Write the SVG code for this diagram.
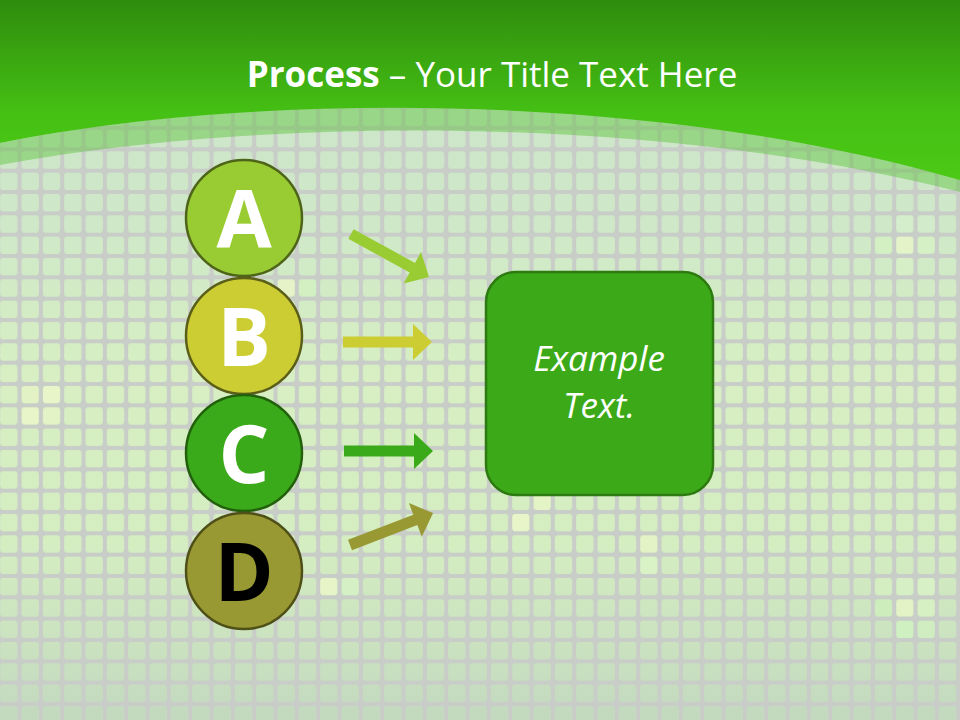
<svg xmlns="http://www.w3.org/2000/svg" width="960" height="720" viewBox="0 0 960 720">
<defs>
<style>
.title{font-family:"Open Sans","Liberation Sans",sans-serif;font-size:35px;fill:#ffffff}
.letter{font-family:"Open Sans","Liberation Sans",sans-serif;font-weight:bold;font-size:80px;text-anchor:middle}
.circ{stroke-width:2.5}
.box{fill:#3caa18;stroke:#2d7a10;stroke-width:2.5}
.boxtext{font-family:"Open Sans","Liberation Sans",sans-serif;font-style:italic;font-size:35px;fill:#ffffff;text-anchor:middle}
.hl{rx:3;ry:3}
</style>
<linearGradient id="hdr" x1="0" y1="0" x2="0" y2="190" gradientUnits="userSpaceOnUse">
<stop offset="0" stop-color="#2f8c0d"/>
<stop offset="0.6" stop-color="#45c014"/>
<stop offset="1" stop-color="#4ccb15"/>
</linearGradient>
<linearGradient id="cells" x1="0" y1="100" x2="0" y2="720" gradientUnits="userSpaceOnUse">
<stop offset="0" stop-color="#cde5c9"/>
<stop offset="0.2" stop-color="#cfe8c8"/>
<stop offset="0.45" stop-color="#d7efc2"/>
<stop offset="0.72" stop-color="#d4edc1"/>
<stop offset="1" stop-color="#c3d9bf"/>
</linearGradient>
<pattern id="grid" patternUnits="userSpaceOnUse" x="-1.8" y="0" width="21.333" height="21.333">
<path fill="#c8cdc8" fill-rule="evenodd" d="M0,0H21.333V21.333H0Z M5,2H16.3Q19.3,2 19.3,5V16.3Q19.3,19.3 16.3,19.3H5Q2,19.3 2,16.3V5Q2,2 5,2Z"/>
</pattern>
<path id="arrow" d="M0,-5.5H70V-18L89,0L70,18V5.5H0Z"/>
</defs>

<g id="background">
<rect x="0" y="0" width="960" height="720" fill="url(#cells)"/>
<g id="highlights">
<rect class="hl" x="21.5" y="386" width="17.3" height="17.3" fill="#e2f2c4"/>
<rect class="hl" x="42.9" y="386" width="17.3" height="17.3" fill="#e8f5c8"/>
<rect class="hl" x="21.5" y="407.3" width="17.3" height="17.3" fill="#e8f5c8"/>
<rect class="hl" x="42.9" y="407.3" width="17.3" height="17.3" fill="#e4f3c6"/>
<rect class="hl" x="277.5" y="279.3" width="17.3" height="17.3" fill="#e6f3c8"/>
<rect class="hl" x="298.9" y="279.3" width="17.3" height="17.3" fill="#d2f0c2"/>
<rect class="hl" x="875" y="236" width="17.3" height="17.3" fill="#d2f0c2"/>
<rect class="hl" x="896.2" y="236" width="17.3" height="17.3" fill="#e4f3c8"/>
<rect class="hl" x="917.5" y="236" width="17.3" height="17.3" fill="#d6f0c6"/>
<rect class="hl" x="896.2" y="214.7" width="17.3" height="17.3" fill="#d4edcb"/>
<rect class="hl" x="917.5" y="214.7" width="17.3" height="17.3" fill="#d2ebcb"/>
<rect class="hl" x="896.2" y="257.3" width="17.3" height="17.3" fill="#d6efc6"/>
<rect class="hl" x="875" y="599.3" width="17.3" height="17.3" fill="#cdeebc"/>
<rect class="hl" x="896.2" y="599.3" width="17.3" height="17.3" fill="#e4f3c6"/>
<rect class="hl" x="917.5" y="599.3" width="17.3" height="17.3" fill="#d6f0c4"/>
<rect class="hl" x="875" y="578" width="17.3" height="17.3" fill="#d4eec2"/>
<rect class="hl" x="896.2" y="578" width="17.3" height="17.3" fill="#d6efc4"/>
<rect class="hl" x="917.5" y="578" width="17.3" height="17.3" fill="#d8f0c6"/>
<rect class="hl" x="896.2" y="620.7" width="17.3" height="17.3" fill="#cff0c0"/>
<rect class="hl" x="917.5" y="620.7" width="17.3" height="17.3" fill="#d0edc2"/>
<rect class="hl" x="533.5" y="492.7" width="17.3" height="17.3" fill="#e4f4c6"/>
<rect class="hl" x="512.2" y="514" width="17.3" height="17.3" fill="#e8f5c8"/>
<rect class="hl" x="640.2" y="535.3" width="17.3" height="17.3" fill="#e4f3c6"/>
<rect class="hl" x="640.2" y="556.7" width="17.3" height="17.3" fill="#daf3c6"/>
<rect class="hl" x="320.2" y="578" width="17.3" height="17.3" fill="#e6f4c8"/>
<rect class="hl" x="341.5" y="578" width="17.3" height="17.3" fill="#d4f0c4"/>
</g>
<rect x="0" y="0" width="960" height="720" fill="url(#grid)"/>
</g>

<g id="header">
<path d="M0,165 C250,118 650,112 960,192 L960,178 C650,88 250,92 0,143 Z" fill="#5cc43a" fill-opacity="0.45"/>
<path d="M0,0 H960 V180 C650,90 250,92 0,143 Z" fill="url(#hdr)"/>
<text class="title" x="492" y="87" text-anchor="middle"><tspan font-weight="bold">Process</tspan> – Your Title Text Here</text>
</g>

<g id="connectors">
<use href="#arrow" fill="#99cc33" transform="translate(351,234) rotate(28.8)"/>
<use href="#arrow" fill="#cccc33" transform="translate(343,342)"/>
<use href="#arrow" fill="#3aaa1a" transform="translate(344,451)"/>
<use href="#arrow" fill="#999933" transform="translate(350,545) rotate(-21)"/>
</g>

<g id="node-A">
<circle class="circ" cx="244" cy="218" r="58" fill="#99cc33" stroke="#4e6419"/>
<text class="letter" x="244" y="248" fill="#ffffff">A</text>
</g>
<g id="node-B">
<circle class="circ" cx="244" cy="336" r="58" fill="#cccc33" stroke="#5a5e18"/>
<text class="letter" x="244" y="366" fill="#ffffff">B</text>
</g>
<g id="node-C">
<circle class="circ" cx="244" cy="453" r="58" fill="#3aaa1a" stroke="#22600c"/>
<text class="letter" x="244" y="483" fill="#ffffff">C</text>
</g>
<g id="node-D">
<circle class="circ" cx="244" cy="571" r="58" fill="#999933" stroke="#4e5018"/>
<text class="letter" x="244" y="601" fill="#000000">D</text>
</g>

<g id="node-box">
<rect class="box" x="486" y="272" width="227" height="223" rx="30" ry="30"/>
<text class="boxtext" x="599" y="371">Example</text>
<text class="boxtext" x="599" y="418">Text.</text>
</g>
</svg>
